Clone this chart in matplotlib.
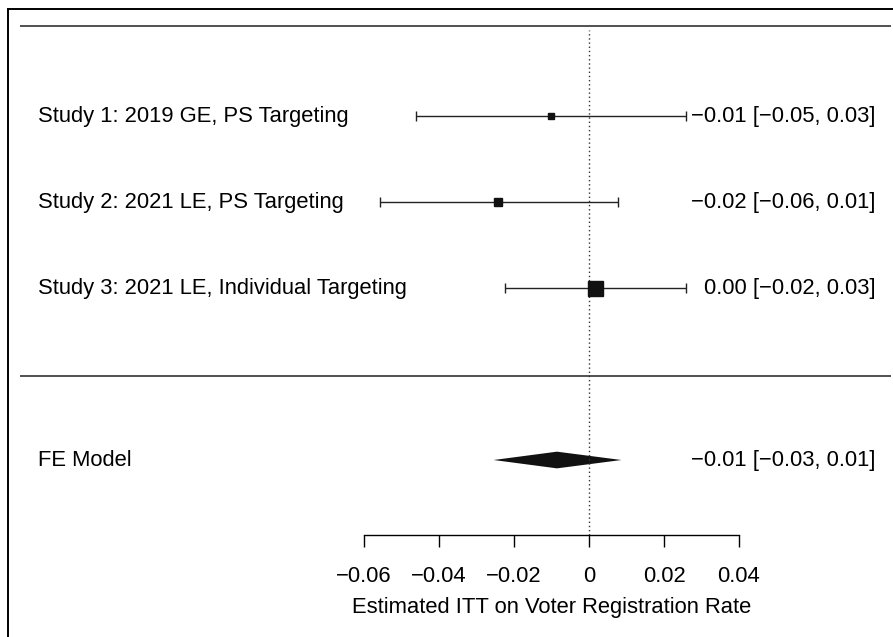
import numpy as np
import matplotlib.pyplot as plt
from matplotlib.lines import Line2D

plt.rcParams['font.family'] = ['Liberation Sans', 'DejaVu Sans']

# study estimates and 95% CIs
studies = ['Study 1: 2019 GE, PS Targeting',
           'Study 2: 2021 LE, PS Targeting',
           'Study 3: 2021 LE, Individual Targeting']
est = np.array([-0.0101, -0.0243, 0.0016])
ci_lo = np.array([-0.0461, -0.0557, -0.0224])
ci_hi = np.array([0.0259, 0.0077, 0.0259])
annot = ['\u22120.01 [\u22120.05, 0.03]',
         '\u22120.02 [\u22120.06, 0.01]',
         '0.00 [\u22120.02, 0.03]']

fe_label = 'FE Model'
fe_est, fe_lo, fe_hi = -0.0085, -0.0254, 0.0087
fe_annot = '\u22120.01 [\u22120.03, 0.01]'

xticks = [-0.06, -0.04, -0.02, 0, 0.02, 0.04]
xticklabels = ['\u22120.06', '\u22120.04', '\u22120.02', '0', '0.02', '0.04']
xlabel = 'Estimated ITT on Voter Registration Rate'

rows = np.array([3, 2, 1])
fe_row = -1

fig = plt.figure(figsize=(8.93, 6.37), dpi=100)
ax = fig.add_axes([0, 0, 1, 1])
ax.set_xlim(-0.157, 0.0811)
ax.set_ylim(-3.058, 4.349)
ax.axis('off')

fs = 15.8

# outer box: only the left and top sides are inside the picture
bx, by = 8 / 893, 1 - 9 / 637
fig.add_artist(Line2D([bx, bx], [-0.1, by], lw=1.4, color='black', transform=fig.transFigure))
fig.add_artist(Line2D([bx, 1.1], [by, by], lw=1.4, color='black', transform=fig.transFigure))

# header and separator lines
ax.hlines([4.05, -0.02], -0.1517, 0.0805, color='#222222', lw=1.1)

# reference line at zero
ax.vlines(0, -1.87, 4.0, color='#333333', lw=1.0, linestyles=(0, (1, 2)))

# inverse-variance weights -> square sizes (metafor style)
se = (ci_hi - ci_lo) / 3.92
w = 1 / se ** 2
psize = (w - w.min()) / (w.max() - w.min())
msize = 4 + psize * 6.8

for i in range(len(studies)):
    ax.errorbar(est[i], rows[i], xerr=[[est[i] - ci_lo[i]], [ci_hi[i] - est[i]]],
                fmt='none', ecolor='#222222', elinewidth=1.0, capsize=3.8, capthick=1.0)
    ax.plot(est[i], rows[i], marker='s', ms=msize[i], color='#111111', mec='#111111')
    ax.text(-0.1469, rows[i], studies[i], ha='left', va='center', fontsize=fs)
    ax.text(0.0765, rows[i], annot[i], ha='right', va='center', fontsize=fs)

# summary diamond
h = 0.097
ax.fill([fe_lo, fe_est, fe_hi, fe_est], [fe_row, fe_row + h, fe_row, fe_row - h],
        color='#111111', lw=0)
ax.text(-0.1469, fe_row, fe_label, ha='left', va='center', fontsize=fs)
ax.text(0.0765, fe_row, fe_annot, ha='right', va='center', fontsize=fs)

# x axis drawn R-style, only over the tick range
ax2 = fig.add_axes([364 / 893, 1 - 535 / 637, 375 / 893, 0.01])
ax2.set_xlim(-0.06, 0.04)
ax2.patch.set_visible(False)
for s in ['top', 'left', 'right']:
    ax2.spines[s].set_visible(False)
ax2.spines['bottom'].set_linewidth(1.0)
ax2.set_yticks([])
ax2.set_xticks(xticks)
ax2.set_xticklabels(xticklabels, fontsize=fs)
ax2.tick_params(axis='x', direction='out', length=8.6, width=1.0, pad=14)
ax2.set_xlabel(xlabel, fontsize=fs, labelpad=7)

fig.savefig('out.png', dpi=100)
